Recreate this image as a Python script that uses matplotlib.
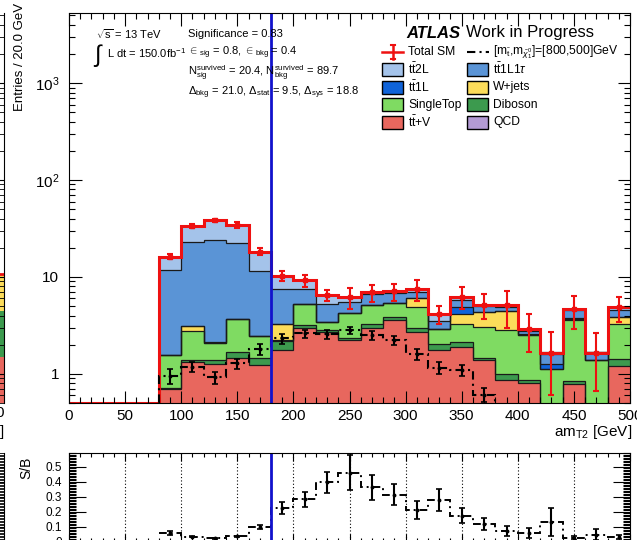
import numpy as np
import matplotlib.pyplot as plt
from matplotlib.lines import Line2D
from matplotlib.patches import Rectangle
from matplotlib.ticker import MultipleLocator, LogLocator, NullFormatter, FixedLocator, FixedFormatter

plt.rcParams['font.family'] = ['Liberation Sans', 'DejaVu Sans']
plt.rcParams['mathtext.fontset'] = 'custom'
plt.rcParams['mathtext.rm'] = 'Liberation Sans'
plt.rcParams['mathtext.it'] = 'Liberation Sans:italic'
plt.rcParams['mathtext.bf'] = 'Liberation Sans:bold'

# amT2 binning, 20 GeV per bin
edges = np.arange(0, 520, 20)

# background yields per bin (events)
ttV = np.array([0, 0, 0, 0, 0.69, 1.31, 1.26, 1.44, 1.23, 1.77, 3.0, 2.7, 2.23, 2.97, 3.59,
                2.72, 1.77, 1.87, 1.38, 0.86, 0.81, 0.30, 0.78, 0.35, 1.21])
diboson = np.array([0, 0, 0, 0, 0.03, 0.09, 0.14, 0.22, 0.21, 0.42, 0.2, 0.15, 0.14, 0.30, 0.23,
                    0.22, 0.26, 0.27, 0.09, 0.14, 0.05, 0.05, 0.07, 0.05, 0.21])
singletop = np.array([0, 0, 0, 0, 0.85, 1.34, 0.66, 2.04, 1.01, 0.05, 2.0, 0.55, 1.83, 1.86, 1.51,
                      1.99, 0.87, 1.13, 1.59, 1.83, 1.67, 0.78, 2.75, 0.98, 1.85])
wjets = np.array([0, 0, 0, 0, 0, 0.34, 0, 0, 0, 1.0, 0.1, 0, 0, 0, 0,
                  1.07, 0, 0.87, 1.32, 1.57, 0, 0, 0.1, 0, 0.55])
tt1L = np.array([0, 0, 0, 0, 0, 0, 0.05, 0, 0, 0, 0, 0, 0, 0, 0,
                 0, 0, 0.79, 0, 0, 0.04, 0.13, 0.04, 0, 0])
tt1L1tau = np.array([0, 0, 0, 0, 10.3, 20.1, 22.15, 18.8, 9.15, 4.2, 2.2, 1.85, 1.35, 1.54, 1.44,
                     0.93, 0.63, 0.85, 0.59, 0.45, 0.21, 0.34, 0.80, 0.28, 0.78])
tt2L = np.array([0.05, 0.08, 0.1, 0.2, 4.3, 10.2, 14.2, 12.0, 6.7, 2.8, 1.7, 1.25, 0.6, 0.26, 0.33,
                 0.57, 0.61, 0.47, 0.2, 0.25, 0.12, 0.06, 0.12, 0.0, 0.25])
qcd = np.zeros(25)
total_err = np.array([0.05, 0.05, 0.05, 0.05, 1.0, 1.5, 1.6, 2.5, 1.6, 1.2, 1.3, 0.9, 1.5, 1.4, 1.4,
                      1.9, 0.9, 1.55, 1.5, 2.1, 1.2, 1.05, 1.75, 1.0, 1.4])

# signal [m_stop, m_chi] = [800, 500] GeV
signal = np.array([0.01, 0.02, 0.02, 0.04, 0.95, 1.18, 0.92, 1.28, 1.8, 2.32, 2.61, 2.57, 2.83, 2.51, 2.23,
                   1.6, 1.16, 1.09, 0.61, 0.37, 0.18, 0.22, 0.12, 0.08, 0.17])
signal_err = np.array([0.01, 0.01, 0.01, 0.02, 0.17, 0.14, 0.13, 0.15, 0.22, 0.28, 0.25, 0.27, 0.23, 0.28, 0.24,
                       0.21, 0.17, 0.15, 0.10, 0.08, 0.06, 0.06, 0.05, 0.04, 0.05])
cut = 180

# last bin of the neighbouring panel (left edge of the page)
nb_edges = np.array([480, 500])
nb_ttV = np.array([1.5])
nb_diboson = np.array([3.0])
nb_wjets = np.array([6.3])

stack = [ttV, diboson, singletop, wjets, tt1L, tt1L1tau, tt2L, qcd]
colors = ['#e8675e', '#3c9a4e', '#7fdb62', '#fcdc5a', '#0f63d9', '#5a94d6', '#a4c3ea', '#b39bd4']
red = '#ee1111'
blue = '#1212cc'

total = np.sum(stack, axis=0)
centers = 0.5 * (edges[:-1] + edges[1:])

W, H = 637, 540
fig = plt.figure(figsize=(W / 100, H / 100), dpi=100)


def box(x0, y0, x1, y1):
    return [x0 / W, 1 - y1 / H, (x1 - x0) / W, (y1 - y0) / H]


def T(x, y, s, **kw):
    fig.text(x / W, 1 - y / H, s, **kw)


def L(xs, ys, **kw):
    fig.add_artist(Line2D(np.array(xs) / W, 1 - np.array(ys) / H, transform=fig.transFigure, **kw))


ymin, ymax = 0.5, 5300

# neighbouring panel fragments
axn = fig.add_axes(box(-40, 13, 4, 403))
lo = np.full(1, 1e-3)
for vals, col in zip([nb_ttV, nb_diboson, nb_wjets], [colors[0], colors[1], colors[3]]):
    axn.stairs(lo + vals, nb_edges, baseline=lo, fill=True, color=col, lw=0)
    lo = lo + vals
axn.stairs(lo, nb_edges, baseline=None, color=red, lw=2)
axn.set_yscale('log')
axn.set_ylim(ymin, ymax)
axn.set_xlim(nb_edges[0], nb_edges[1])
axn.tick_params(which='both', direction='in', left=False, right=True, labelleft=False,
                bottom=False, labelbottom=False)
axn.tick_params(which='major', length=9)
axn.tick_params(which='minor', length=4.5)
axn.yaxis.set_minor_locator(LogLocator(subs=np.arange(2, 10)))
for s in ['left', 'top', 'bottom']:
    axn.spines[s].set_visible(False)
axr2 = fig.add_axes(box(-40, 453, 4, 542))
axr2.set_ylim(0, 0.59)
axr2.yaxis.set_major_locator(MultipleLocator(0.1))
axr2.yaxis.set_minor_locator(MultipleLocator(0.01))
axr2.tick_params(which='both', direction='in', left=False, right=True, labelleft=False,
                 bottom=False, labelbottom=False)
axr2.tick_params(which='major', length=12)
axr2.tick_params(which='minor', length=5)
for s in ['left', 'top', 'bottom']:
    axr2.spines[s].set_visible(False)
T(5, 413, '500', fontsize=11, ha='right', va='center')
T(4, 432, r'am$_{\rm T2}$ [GeV]', fontsize=11, ha='right', va='center')

# main panel
ax = fig.add_axes(box(69, 13, 630, 403))
lower = np.full(len(centers), 1e-3)
tops = []
for vals, col in zip(stack, colors):
    upper = lower + vals
    ax.stairs(upper, edges, baseline=lower, fill=True, color=col, lw=0)
    tops.append(upper)
    lower = upper
for up in tops[:-1]:
    ax.stairs(up, edges, baseline=None, color='#1a1a1a', lw=0.9)

ax.stairs(np.maximum(total, ymin), edges, baseline=None, color=red, lw=2.2)
m = total > 1
ax.errorbar(centers[m], total[m], yerr=total_err[m], fmt='s', ms=2.5, color=red,
            elinewidth=1.5, capsize=2, capthick=1.5)

ax.stairs(signal, edges, baseline=None, color='k', lw=1.5, ls=(0, (4, 2, 1, 2)))
ax.errorbar(centers, signal, yerr=signal_err, fmt='o', ms=1.8, color='k',
            elinewidth=1.5, capsize=2, capthick=1.2)

ax.axvline(cut, color=blue, lw=2)

ax.set_yscale('log')
ax.set_xlim(0, 500)
ax.set_ylim(ymin, ymax)
ax.xaxis.set_major_locator(MultipleLocator(50))
ax.xaxis.set_minor_locator(MultipleLocator(10))
ax.yaxis.set_major_locator(FixedLocator([1, 10, 100, 1000]))
ax.yaxis.set_major_formatter(FixedFormatter(['1', '10', r'10$^{2}$', r'10$^{3}$']))
ax.yaxis.set_minor_locator(LogLocator(subs=np.arange(2, 10)))
ax.yaxis.set_minor_formatter(NullFormatter())
ax.tick_params(which='both', direction='in', top=True, right=True, labelsize=11, width=0.8)
ax.tick_params(which='major', length=9)
ax.tick_params(which='minor', length=4.5)
ax.tick_params(axis='x', pad=4)
ax.tick_params(axis='y', pad=7)
for s in ax.spines.values():
    s.set_linewidth(0.8)

T(20, 3, 'Entries / 20.0 GeV', fontsize=9.5, rotation=90, ha='center', va='top')
T(632, 432, r'am$_{\rm T2}$ [GeV]', fontsize=11, ha='right', va='center')

# labels in the upper-left corner
T(96, 34, r'$\sqrt{\rm s}$ = 13 TeV', fontsize=8, va='center')
T(94, 56, '\u222b', fontsize=17, va='center')
T(107, 53, r'L dt = 150.0fb$^{-1}$', fontsize=8, va='center')
T(188, 34, 'Significance = 0.83', fontsize=8, va='center')
T(188, 53, r'${\in}_{\rm sig}$ = 0.8, ${\in}_{\rm bkg}$ = 0.4', fontsize=8, va='center')
T(188, 73, r'N$^{\rm survived}_{\rm sig}$ = 20.4, N$^{\rm survived}_{\rm bkg}$ = 89.7', fontsize=8, va='center')
T(188, 93, r'$\Delta_{\rm bkg}$ = 21.0, $\Delta_{\rm stat}$ = 9.5, $\Delta_{\rm sys}$ = 18.8', fontsize=8, va='center')

T(406, 33, 'ATLAS', fontsize=12, fontweight='bold', fontstyle='italic', va='center')
T(466, 33, 'Work in Progress', fontsize=12, va='center')

# legend, two columns
col1 = [('Total SM', None), (r't$\bar{\rm t}$2L', colors[6]), (r't$\bar{\rm t}$1L', colors[4]),
        ('SingleTop', colors[2]), (r't$\bar{\rm t}$+V', colors[0])]
col2 = [(r'[m$_{\tilde{\rm t}}$,m$_{\tilde{\chi}^0_1}$]=[800,500]GeV', None),
        (r't$\bar{\rm t}$1L1$\tau$', colors[5]), ('W+jets', colors[3]),
        ('Diboson', colors[1]), ('QCD', colors[7])]
for x0, entries in [(382, col1), (467, col2)]:
    for i, (lab, col) in enumerate(entries):
        y = 52 + i * 17.6
        if col is not None:
            fig.add_artist(Rectangle((x0 / W, 1 - (y + 6.5) / H), 21 / W, 13 / H, facecolor=col,
                                     edgecolor='k', lw=1, transform=fig.transFigure))
        T(x0 + 26, y, lab, fontsize=8.7, va='center')
L([382, 403], [52, 52], color=red, lw=1.8)
L([392.5, 392.5], [45, 59], color=red, lw=1.8)
L([390.5, 394.5], [45, 45], color=red, lw=1.5)
L([390.5, 394.5], [59, 59], color=red, lw=1.5)
L([467, 489], [52, 52], color='k', lw=1.5, ls=(0, (4, 2, 1, 2)))

# S/B panel
rax = fig.add_axes(box(69, 453, 630, 542))
rm = total > 1
ratio = signal[rm] / total[rm]
ratio_err = ratio * np.sqrt((signal_err[rm] / signal[rm]) ** 2 + (total_err[rm] / total[rm]) ** 2)
r_edges = edges[np.append(rm, True)]
rax.stairs(ratio, r_edges, baseline=None, color='k', lw=1.4, ls=(0, (4, 2, 1, 2)))
rax.errorbar(centers[rm], ratio, yerr=ratio_err, fmt='o', ms=1.8, color='k',
             elinewidth=1.5, capsize=2, capthick=1.2)
rax.axvline(cut, color=blue, lw=2)
rax.set_xlim(0, 500)
rax.set_ylim(0, 0.59)
rax.xaxis.set_major_locator(MultipleLocator(50))
rax.xaxis.set_minor_locator(MultipleLocator(10))
rax.yaxis.set_major_locator(FixedLocator([0, 0.1, 0.2, 0.3, 0.4, 0.5]))
rax.yaxis.set_major_formatter(FixedFormatter(['0', '0.1', '0.2', '0.3', '0.4', '0.5']))
rax.yaxis.set_minor_locator(MultipleLocator(0.01))
rax.grid(axis='x', which='major', color='k', lw=0.8, ls=(0, (1, 2)))
rax.tick_params(which='both', direction='in', top=True, right=True, labelbottom=False,
                labelsize=8.5, width=0.8)
rax.tick_params(axis='y', which='major', length=12, pad=5)
rax.tick_params(axis='y', which='minor', length=5)
rax.tick_params(axis='x', which='major', length=6)
rax.tick_params(axis='x', which='minor', length=3)
for s in rax.spines.values():
    s.set_linewidth(0.8)
T(26, 468, 'S/B', fontsize=10, rotation=90, ha='center', va='center')

fig.savefig('out.png', dpi=100)
